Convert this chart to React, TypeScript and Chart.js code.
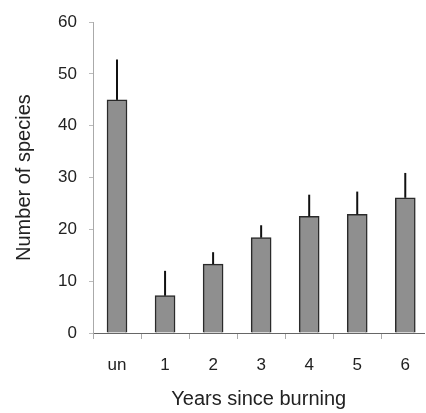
import React, { useEffect, useRef } from "react";
import { Chart, registerables } from "chart.js";

Chart.register(...registerables);

const categories = ["un", "1", "2", "3", "4", "5", "6"];
const speciesMean = [45, 7.2, 13.3, 18.4, 22.5, 22.9, 26.1];
const speciesErr = [7.8, 4.8, 2.3, 2.4, 4.2, 4.4, 4.8];
const yTicks = [0, 10, 20, 30, 40, 50, 60];

const FONT = "'Liberation Sans', Arial, sans-serif";

const errorBarPlugin = {
  id: "errorBars",
  afterDatasetsDraw(chart: any) {
    const ctx = chart.ctx;
    const xs = chart.scales.x;
    const ys = chart.scales.y;
    ctx.save();
    ctx.strokeStyle = "#111";
    ctx.lineWidth = 2;
    speciesMean.forEach((v, i) => {
      const x = xs.getPixelForValue(i);
      ctx.beginPath();
      ctx.moveTo(x, ys.getPixelForValue(v));
      ctx.lineTo(x, ys.getPixelForValue(v + speciesErr[i]));
      ctx.stroke();
    });
    ctx.restore();
  },
};

export default function App() {
  const ref = useRef<HTMLCanvasElement>(null);
  useEffect(() => {
    if (!ref.current) return;
    const chart = new Chart(ref.current, {
      type: "bar",
      data: {
        datasets: [
          {
            data: speciesMean.map((v, i) => ({ x: i, y: v })),
            backgroundColor: "#8f8f8f",
            borderColor: "#2a2a2a",
            borderWidth: 1.5,
            barThickness: 20,
          },
        ],
      },
      options: {
        animation: false,
        responsive: false,
        layout: { padding: { left: 8, top: 20, right: 0, bottom: 0 } },
        plugins: { legend: { display: false }, tooltip: { enabled: false } },
        scales: {
          x: {
            type: "linear",
            min: -0.5,
            max: 6.4,
            offset: false,
            afterBuildTicks: (axis: any) => {
              axis.ticks = categories.map((_, i) => ({ value: i }));
            },
            afterFit: (s: any) => {
              s.height = 80;
            },
            ticks: {
              callback: (v: any) => categories[v] ?? "",
              font: { family: FONT, size: 17 },
              color: "#222",
              padding: 16,
              maxRotation: 0,
              autoSkip: false,
            },
            grid: {
              offset: true,
              drawOnChartArea: false,
              tickLength: 6,
              color: "#aaa",
            },
            border: { color: "#666", dash: [2, 2], width: 1 },
            title: {
              display: true,
              text: "Years since burning",
              font: { family: FONT, size: 20 },
              color: "#222",
              padding: { top: 4, bottom: 2 },
            },
          },
          y: {
            min: 0,
            max: 60,
            afterBuildTicks: (axis: any) => {
              axis.ticks = yTicks.map((v) => ({ value: v }));
            },
            afterFit: (s: any) => {
              s.width = 85;
            },
            ticks: {
              font: { family: FONT, size: 17 },
              color: "#222",
              padding: 12,
            },
            grid: {
              drawOnChartArea: false,
              tickLength: 4,
              color: "#bbb",
            },
            border: { color: "#aaa", dash: [1, 2], width: 1 },
            title: {
              display: true,
              text: "Number of species",
              font: { family: FONT, size: 20 },
              color: "#222",
              padding: { top: 4, bottom: 4 },
            },
          },
        },
      },
      plugins: [errorBarPlugin],
    } as any);
    return () => chart.destroy();
  }, []);
  return (
    <div style={{ position: "fixed", left: 0, top: 0, width: 426, height: 413, background: "#fff" }}>
      <canvas ref={ref} width={426} height={413} style={{ display: "block" }} />
    </div>
  );
}
